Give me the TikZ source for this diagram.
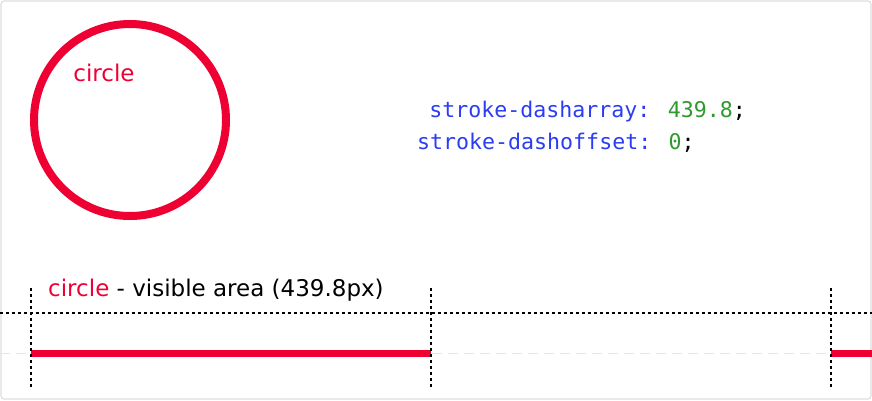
\documentclass[tikz,border=0pt]{standalone}
\usepackage{fontspec}
\setmainfont{DejaVu Sans}
\newfontfamily\codefont{DejaVu Sans Mono}
\definecolor{cred}{HTML}{EE0033}
\definecolor{cblue}{HTML}{2B3DF0}
\definecolor{cgreen}{HTML}{2E9A2E}
\definecolor{cframe}{HTML}{DDDDDD}
\definecolor{cguide}{HTML}{E6E6E6}
\tikzset{
  dotline/.style={black, line width=1.4pt, dash pattern=on 3pt off 3pt},
  guideline/.style={cguide, line width=1pt, dash pattern=on 10pt off 6pt},
  redbar/.style={cred, line width=7pt},
  lbl/.style={font=\fontsize{23}{26}\selectfont, inner sep=0pt},
  code/.style={font=\codefont\fontsize{21.6}{26}\selectfont, inner sep=0pt}
}
\begin{document}
\begin{tikzpicture}[x=1pt,y=-1pt]
\useasboundingbox (0,0) rectangle (872,400);
\draw[cframe, line width=1.2pt, rounded corners=3pt] (1,1) rectangle (871,399);
% circle
\draw[cred, line width=8pt] (130,120) circle (96);
\node[lbl, text=cred, anchor=base] (clabel) at (104,81) {circle};
% code
\node[code, anchor=base east] (l1) at (746,117) {\textcolor{cblue}{stroke-dasharray:} \textcolor{cgreen}{439.8};};
\node[code, anchor=base west] (l2) at (417,149) {\textcolor{cblue}{stroke-dashoffset:} \textcolor{cgreen}{0};};
% bottom
\node[lbl, anchor=base west] (vis) at (48,296) {\textcolor{cred}{circle} - visible area (439.8px)};
\coordinate (gl) at (0,353);
\coordinate (gr) at (872,353);
\draw[guideline] (gl) -- (gr);
\coordinate (hl) at (0,313);
\coordinate (hr) at (872,313);
\draw[dotline] (hl) -- (hr);
\coordinate (a) at (31,353);
\coordinate (b) at (431,353);
\coordinate (c) at (831,353);
\coordinate (d) at (872,353);
\draw[redbar] (a) -- (b);
\draw[redbar] (c) -- (d);
\foreach \x in {31,431,831}{
  \draw[dotline] (\x,288) -- (\x,388);
}
\end{tikzpicture}
\end{document}
